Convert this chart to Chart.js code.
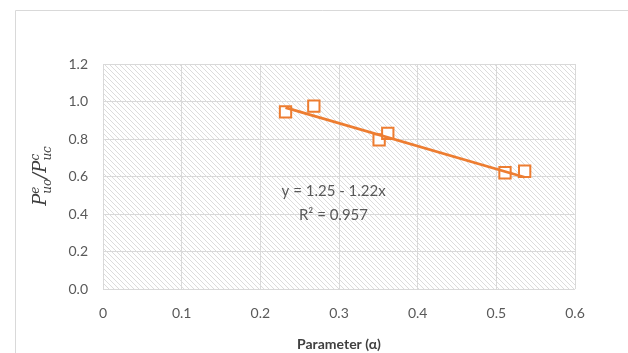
<!DOCTYPE html>
<html>
<head>
<meta charset="utf-8">
<script src="https://cdn.jsdelivr.net/npm/chart.js@4"></script>
<style>
  html, body { margin: 0; padding: 0; background: #fff; }
  #wrap { width: 628px; height: 353px; }
</style>
</head>
<body>
<div id="wrap"><canvas id="scatterChart" width="628" height="353"></canvas></div>
<script>
// data
const alphaValues = [0.232, 0.268, 0.351, 0.362, 0.511, 0.536];
const ratioValues = [0.945, 0.975, 0.795, 0.830, 0.620, 0.628];
// linear trendline end points (y = 1.25 - 1.22x)
const trendX = [0.232, 0.536];
const trendY = [0.967, 0.596];
const xTicks = [0, 0.1, 0.2, 0.3, 0.4, 0.5, 0.6];
const yTicks = [0.0, 0.2, 0.4, 0.6, 0.8, 1.0, 1.2];
const equationText = "y = 1.25 - 1.22x";
const rSquaredText = "R\u00b2 = 0.957";

const orange = "#ED7D31";
const labelGray = "#595959";

function makeHatch() {
    const tile = document.createElement("canvas");
    tile.width = 5;
    tile.height = 5;
    const t = tile.getContext("2d");
    t.fillStyle = "#ffffff";
    t.fillRect(0, 0, 5, 5);
    t.fillStyle = "#dcdcdc";
    for (let i = 0; i < 5; i++) {
        t.fillRect(i, i, 1, 1);
    }
    return t.createPattern(tile, "repeat");
}

// frame, hatched plot background and the custom texts
const decorPlugin = {
    id: "decor",
    beforeDraw(chart) {
        const ctx = chart.ctx;
        const a = chart.chartArea;
        ctx.save();
        ctx.strokeStyle = "#d9d9d9";
        ctx.lineWidth = 1;
        ctx.beginPath();
        ctx.moveTo(15.5, 360);
        ctx.lineTo(15.5, 10.5);
        ctx.lineTo(640, 10.5);
        ctx.stroke();
        ctx.fillStyle = makeHatch();
        ctx.fillRect(a.left, a.top, a.right - a.left, a.bottom - a.top);
        ctx.restore();
    },
    afterDatasetsDraw(chart) {
        const ctx = chart.ctx;
        const xs = chart.scales.x;
        const ys = chart.scales.y;
        ctx.save();
        ctx.fillStyle = labelGray;
        ctx.font = "15px Lato";
        ctx.textBaseline = "middle";
        ctx.textAlign = "left";
        ctx.fillText(equationText, xs.getPixelForValue(0.227), ys.getPixelForValue(0.52));
        ctx.fillText(rSquaredText, xs.getPixelForValue(0.249), ys.getPixelForValue(0.395));

        // y axis title  P^e_uo / P^c_uc  (rotated)
        ctx.translate(40, 176);
        ctx.rotate(-Math.PI / 2);
        ctx.fillStyle = "#404040";
        const big = "italic 18px 'DejaVu Serif'";
        const small = "italic 12px 'DejaVu Serif'";
        const parts = [
            { t: "P", f: big, dy: 0, adv: true },
            { t: "e", f: small, dy: -7, adv: false },
            { t: "uo", f: small, dy: 5, adv: true },
            { t: "/", f: big, dy: 0, adv: true },
            { t: "P", f: big, dy: 0, adv: true },
            { t: "c", f: small, dy: -7, adv: false },
            { t: "uc", f: small, dy: 5, adv: true }
        ];
        let total = 0;
        parts.forEach(p => {
            ctx.font = p.f;
            if (p.adv) total += ctx.measureText(p.t).width;
        });
        let x = -total / 2;
        ctx.textAlign = "left";
        ctx.textBaseline = "alphabetic";
        parts.forEach(p => {
            ctx.font = p.f;
            ctx.fillText(p.t, x, 6 + p.dy);
            if (p.adv) x += ctx.measureText(p.t).width;
        });
        ctx.restore();
    }
};

const canvas = document.getElementById("scatterChart");
new Chart(canvas.getContext("2d"), {
    type: "scatter",
    data: {
        datasets: [
            {
                label: "Trendline",
                type: "line",
                data: trendX.map((x, i) => ({ x: x, y: trendY[i] })),
                borderColor: orange,
                borderWidth: 2.75,
                pointRadius: 0,
                fill: false
            },
            {
                label: "Pu ratio",
                data: alphaValues.map((x, i) => ({ x: x, y: ratioValues[i] })),
                pointStyle: "rect",
                pointRadius: 8,
                pointBorderWidth: 2,
                pointBackgroundColor: "#ffffff",
                pointBorderColor: orange,
                pointHoverRadius: 8
            }
        ]
    },
    options: {
        responsive: false,
        animation: false,
        layout: { padding: { top: 64, right: 53, left: 0, bottom: 0 } },
        plugins: {
            legend: { display: false },
            tooltip: { enabled: false }
        },
        scales: {
            x: {
                type: "linear",
                min: 0,
                max: 0.6,
                afterBuildTicks: s => { s.ticks = xTicks.map(v => ({ value: v })); },
                afterFit: s => { s.height = 64; },
                grid: { color: "#d9d9d9", drawTicks: false },
                border: { display: false },
                ticks: {
                    color: labelGray,
                    font: { family: "Lato", size: 14 },
                    padding: 16,
                    callback: v => String(v)
                },
                title: {
                    display: true,
                    text: "Parameter (\u03b1)",
                    color: "#404040",
                    font: { family: "Lato", size: 14, weight: "bold" },
                    padding: { top: 2, bottom: 0 }
                }
            },
            y: {
                type: "linear",
                min: 0,
                max: 1.2,
                afterBuildTicks: s => { s.ticks = yTicks.map(v => ({ value: v })); },
                afterFit: s => { s.width = 103; },
                grid: { color: "#d9d9d9", drawTicks: false },
                border: { display: false },
                ticks: {
                    color: labelGray,
                    font: { family: "Lato", size: 14 },
                    padding: 15,
                    callback: v => v.toFixed(1)
                }
            }
        }
    },
    plugins: [decorPlugin]
});
</script>
</body>
</html>
